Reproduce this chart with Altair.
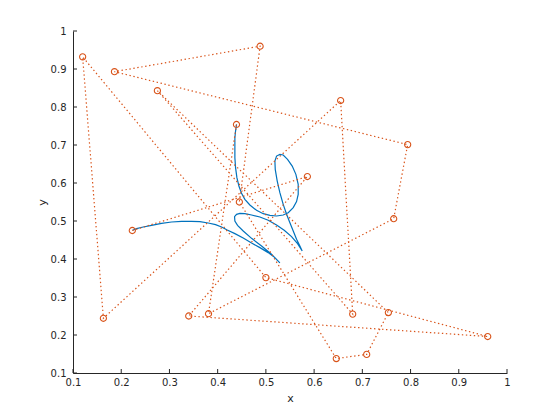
import altair as alt
import pandas as pd

# Control polygon (in path order)
ctrl_x = [0.223, 0.586, 0.340, 0.960, 0.500, 0.120, 0.163, 0.655, 0.680, 0.275,
          0.754, 0.709, 0.646, 0.445, 0.488, 0.186, 0.794, 0.765, 0.381, 0.439]
ctrl_y = [0.475, 0.617, 0.250, 0.196, 0.351, 0.932, 0.244, 0.817, 0.255, 0.843,
          0.259, 0.149, 0.138, 0.550, 0.960, 0.893, 0.701, 0.506, 0.256, 0.754]

# Curve points
curve_x = [0.2235, 0.2318, 0.2456, 0.2629, 0.2836, 0.3044, 0.3251, 0.3458, 0.3631, 0.3804,
           0.3956, 0.4081, 0.4198, 0.4357, 0.4530, 0.4703, 0.4876, 0.5048, 0.5187, 0.5290,
           0.5117, 0.4910, 0.4703, 0.4530, 0.4412, 0.4357, 0.4350, 0.4392, 0.4461, 0.4564,
           0.4703, 0.4876, 0.5048, 0.5221, 0.5380, 0.5532, 0.5657, 0.5753,
           0.5705, 0.5636, 0.5567, 0.5498, 0.5429, 0.5359, 0.5290, 0.5235, 0.5194, 0.5187,
           0.5221, 0.5290, 0.5359, 0.5449, 0.5546, 0.5622, 0.5670, 0.5670, 0.5636, 0.5567,
           0.5463, 0.5359, 0.5221, 0.5083, 0.4945, 0.4806, 0.4668, 0.4564, 0.4495, 0.4440,
           0.4399, 0.4371, 0.4357, 0.4357, 0.4357, 0.4371, 0.4392]
curve_y = [0.4755, 0.4799, 0.4842, 0.4886, 0.4939, 0.4974, 0.4991, 0.4991, 0.4983, 0.4948,
           0.4904, 0.4842, 0.4764, 0.4667, 0.4553, 0.4422, 0.4299, 0.4168, 0.4036, 0.3896,
           0.4124, 0.4343, 0.4544, 0.4737, 0.4886, 0.5000, 0.5114, 0.5176, 0.5202, 0.5193,
           0.5158, 0.5105, 0.5018, 0.4895, 0.4755, 0.4588, 0.4404, 0.4211,
           0.4343, 0.4518, 0.4737, 0.4956, 0.5176, 0.5438, 0.5745, 0.6052, 0.6359, 0.6578,
           0.6709, 0.6753, 0.6736, 0.6622, 0.6446, 0.6227, 0.5964, 0.5701, 0.5509, 0.5351,
           0.5219, 0.5158, 0.5132, 0.5149, 0.5193, 0.5281, 0.5421, 0.5570, 0.5728, 0.5921,
           0.6140, 0.6403, 0.6666, 0.6928, 0.7191, 0.7367, 0.7542]

tick_vals = [0.1, 0.2, 0.3, 0.4, 0.5, 0.6, 0.7, 0.8, 0.9, 1.0]

W, H = 434, 342
AXC = "#262626"
ORANGE = "#D95319"
BLUE = "#0072BD"

ctrl_df = pd.DataFrame({"x": ctrl_x, "y": ctrl_y, "i": list(range(len(ctrl_x)))})
curve_df = pd.DataFrame({"x": curve_x, "y": curve_y, "i": list(range(len(curve_x)))})
tick_df = pd.DataFrame({"x": tick_vals, "y": tick_vals})

xs = alt.Scale(domain=[0.1, 1.0], nice=False, zero=False)
ys = alt.Scale(domain=[0.1, 1.0], nice=False, zero=False)
xaxis = alt.Axis(values=tick_vals, format=".1~f", title="x", labelOverlap=False,
                 labelFlush=False, ticks=False, labelPadding=4, titlePadding=5)
yaxis = alt.Axis(values=tick_vals, format=".1~f", title="y", labelOverlap=False,
                 labelFlush=False, ticks=False, labelPadding=7, titlePadding=3)

X = alt.X("x:Q", scale=xs, axis=xaxis)
Y = alt.Y("y:Q", scale=ys, axis=yaxis)

curve = alt.Chart(curve_df).mark_line(color=BLUE, strokeWidth=1.2).encode(x=X, y=Y, order="i:Q")
poly = alt.Chart(ctrl_df).mark_line(color=ORANGE, strokeDash=[1.4, 2.6], strokeWidth=1.2).encode(
    x=X, y=Y, order="i:Q")
pts = alt.Chart(ctrl_df).mark_point(shape="circle", size=38, color=ORANGE, strokeWidth=1.1,
                                    filled=False, opacity=1).encode(x=X, y=Y)
xticks = alt.Chart(tick_df).mark_rule(color=AXC, strokeWidth=1).encode(
    x=X, y=alt.value(H), y2=alt.value(H - 4))
yticks = alt.Chart(tick_df).mark_rule(color=AXC, strokeWidth=1).encode(
    y=Y, x=alt.value(0), x2=alt.value(4))

chart = alt.layer(curve, poly, pts, xticks, yticks).properties(
    width=W, height=H,
    autosize=alt.AutoSizeParams(type="none"),
    padding={"left": 65, "top": 23, "right": 45, "bottom": 40},
).configure_view(stroke=None).configure_axis(
    domainColor=AXC, domainWidth=1, labelColor=AXC, titleColor=AXC,
    labelFont="DejaVu Sans", titleFont="DejaVu Sans", labelFontSize=10,
    titleFontSize=11, titleFontWeight="normal", grid=False,
)

chart.save("out.html", embed_options={"renderer": "svg", "actions": False})
